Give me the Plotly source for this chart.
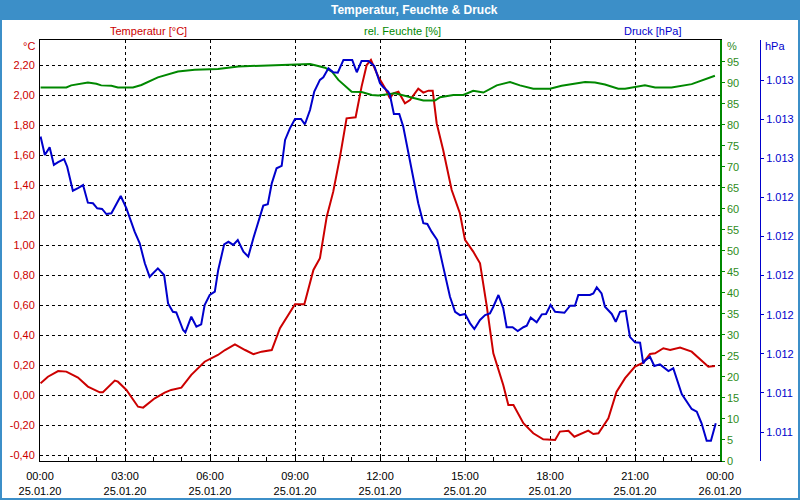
import plotly.graph_objects as go
import pandas as pd

# ---- data (hours since 25.01.20 00:00) ----
temp_hours = [0.02, 0.28, 0.64, 0.93, 1.34, 1.69, 2.11, 2.22, 2.64, 2.75, 3.05, 3.22, 3.46, 3.64, 4.05, 4.40,
              4.63, 4.99, 5.34, 5.81, 6.28, 6.53, 6.88, 7.24, 7.53, 7.82, 8.18, 8.47, 9.00, 9.33, 9.65, 9.88,
              10.12, 10.35, 10.59, 10.82, 11.14, 11.35, 11.53, 11.68, 11.94, 12.18, 12.35, 12.47, 12.65, 12.88,
              13.06, 13.35, 13.53, 13.71, 13.86, 14.00, 14.23, 14.53, 14.82, 15.00, 15.29, 15.53, 15.77, 16.00,
              16.35, 16.53, 16.71, 17.06, 17.41, 17.76, 18.18, 18.35, 18.65, 18.86, 19.18, 19.35, 19.53, 19.71,
              20.06, 20.35, 20.65, 21.00, 21.29, 21.53, 21.71, 22.00, 22.24, 22.59, 23.00, 23.35, 23.59, 23.82]
temp_values = [0.081, 0.125, 0.163, 0.159, 0.119, 0.059, 0.021, 0.021, 0.099, 0.092, 0.037, -0.008, -0.075, -0.081,
               -0.019, 0.019, 0.037, 0.052, 0.137, 0.225, 0.270, 0.303, 0.341, 0.303, 0.275, 0.292, 0.303, 0.448,
               0.608, 0.608, 0.837, 0.915, 1.192, 1.359, 1.592, 1.848, 1.855, 2.059, 2.203, 2.237, 2.125, 2.048,
               1.981, 2.015, 2.025, 1.948, 1.970, 2.045, 2.019, 2.032, 2.032, 1.815, 1.637, 1.370, 1.215, 1.037,
               0.959, 0.881, 0.592, 0.281, 0.070, -0.063, -0.063, -0.185, -0.252, -0.292, -0.297, -0.241, -0.235,
               -0.275, -0.252, -0.235, -0.257, -0.252, -0.152, 0.025, 0.115, 0.192, 0.219, 0.277, 0.281, 0.315,
               0.303, 0.319, 0.292, 0.232, 0.192, 0.197]

hum_hours = [0.02, 0.93, 1.10, 1.69, 1.99, 2.16, 2.52, 2.75, 3.28, 3.58, 4.16, 4.87, 5.46, 6.28, 7.00, 7.94,
             9.35, 9.53, 9.71, 10.06, 10.30, 10.53, 11.00, 11.35, 11.71, 11.94, 12.53, 13.06, 13.53, 13.94,
             14.12, 14.59, 14.94, 15.29, 15.65, 16.12, 16.59, 16.94, 17.41, 18.00, 18.18, 18.41, 19.24, 19.59,
             19.94, 20.41, 20.65, 21.35, 21.71, 22.29, 23.00, 23.35, 23.82]
hum_values = [88.9, 88.9, 89.4, 90.1, 89.8, 89.4, 89.3, 88.9, 88.9, 89.5, 91.3, 92.7, 93.1, 93.3, 93.9, 94.1,
              94.3, 94.5, 94.2, 93.6, 92.7, 90.7, 87.9, 87.8, 87.1, 87.0, 87.5, 86.6, 85.8, 85.8,
              86.6, 87.1, 87.1, 88.1, 87.7, 89.4, 90.2, 89.4, 88.6, 88.6, 88.9, 89.3, 90.2, 90.1,
              89.6, 88.6, 88.6, 89.4, 88.9, 88.9, 89.7, 90.5, 91.7]

pres_hours = [0.02, 0.17, 0.34, 0.49, 0.64, 0.85, 0.96, 1.16, 1.34, 1.52, 1.69, 1.87, 2.02, 2.19, 2.34, 2.52,
              2.85, 3.05, 3.34, 3.52, 3.70, 3.87, 4.16, 4.38, 4.52, 4.69, 4.81, 5.05, 5.13, 5.34, 5.52, 5.69,
              5.81, 5.99, 6.17, 6.29, 6.50, 6.65, 6.82, 6.98, 7.18, 7.35, 7.53, 7.70, 7.88, 8.04, 8.18, 8.35,
              8.53, 8.65, 8.82, 9.00, 9.21, 9.35, 9.53, 9.68, 9.88, 10.00, 10.18, 10.35, 10.51, 10.71, 11.02,
              11.18, 11.35, 11.59, 11.80, 12.00, 12.12, 12.29, 12.35, 12.49, 12.68, 12.82, 13.00, 13.18, 13.35,
              13.53, 13.67, 13.82, 14.02, 14.23, 14.47, 14.65, 14.82, 15.00, 15.18, 15.33, 15.53, 15.71, 15.88,
              16.00, 16.18, 16.35, 16.47, 16.68, 16.86, 17.06, 17.18, 17.32, 17.53, 17.71, 17.86, 18.02, 18.18,
              18.51, 18.71, 18.88, 19.00, 19.41, 19.53, 19.65, 19.82, 19.94, 20.06, 20.18, 20.32, 20.47, 20.67,
              20.82, 21.00, 21.18, 21.29, 21.35, 21.53, 21.68, 21.88, 22.18, 22.35, 22.65, 23.00, 23.18, 23.35,
              23.53, 23.68, 23.85]
pres_values = [1012.711, 1012.617, 1012.656, 1012.566, 1012.580, 1012.596, 1012.557, 1012.434, 1012.447,
               1012.463, 1012.373, 1012.370, 1012.344, 1012.341, 1012.315, 1012.319, 1012.407, 1012.344,
               1012.225, 1012.165, 1012.063, 1011.994, 1012.037, 1012.003, 1011.858, 1011.815, 1011.812,
               1011.722, 1011.710, 1011.790, 1011.739, 1011.751, 1011.850, 1011.901, 1011.918, 1012.029,
               1012.160, 1012.173, 1012.157, 1012.182, 1012.122, 1012.097, 1012.191, 1012.276, 1012.358,
               1012.365, 1012.472, 1012.549, 1012.561, 1012.694, 1012.753, 1012.801, 1012.801, 1012.774,
               1012.847, 1012.941, 1013.001, 1013.014, 1013.060, 1013.040, 1013.038, 1013.103, 1013.103,
               1013.040, 1013.098, 1013.098, 1013.072, 1012.984, 1012.963, 1012.941, 1012.924, 1012.827,
               1012.827, 1012.762, 1012.626, 1012.489, 1012.370, 1012.268, 1012.264, 1012.225, 1012.182,
               1012.046, 1011.892, 1011.815, 1011.798, 1011.804, 1011.756, 1011.727, 1011.773, 1011.798,
               1011.807, 1011.841, 1011.901, 1011.833, 1011.736, 1011.736, 1011.717, 1011.736, 1011.744,
               1011.785, 1011.761, 1011.802, 1011.804, 1011.850, 1011.815, 1011.810, 1011.846, 1011.846,
               1011.901, 1011.901, 1011.909, 1011.940, 1011.909, 1011.841, 1011.820, 1011.804, 1011.764,
               1011.815, 1011.820, 1011.687, 1011.659, 1011.657, 1011.551, 1011.565, 1011.585, 1011.538,
               1011.546, 1011.512, 1011.526, 1011.394, 1011.318, 1011.304, 1011.245, 1011.155, 1011.155,
               1011.245]

temp_ticks = [-0.4, -0.2, 0.0, 0.2, 0.4, 0.6, 0.8, 1.0, 1.2, 1.4, 1.6, 1.8, 2.0, 2.2]
hum_ticks = list(range(0, 100, 5))
pres_ticks = [1011.2, 1011.4, 1011.6, 1011.8, 1012.0, 1012.2, 1012.4, 1012.6, 1012.8, 1013.0]

title_text = "Temperatur, Feuchte & Druck"
series_names = ["Temperatur [°C]", "rel. Feuchte [%]", "Druck [hPa]"]
unit_labels = ["°C", "%", "hPa"]

# ---- styling ----
RED = "#cc0000"
GREEN = "#008800"
GREEN_TXT = "#2e8b1a"
BLUE = "#0000cc"
BAR = "#3c8fc8"
FONT = "Liberation Sans"

base = pd.Timestamp("2020-01-25 00:00")
def to_time(hours):
    return [base + pd.Timedelta(hours=h) for h in hours]

W, H = 800, 500
ML, MR, MT, MB = 40, 38, 40, 39
PW, PH = W - ML - MR, H - MT - MB
def px(x):
    return (x - ML) / PW
def py(y):
    return (H - MB - y) / PH

fig = go.Figure()
fig.add_trace(go.Scatter(x=to_time(hum_hours), y=hum_values, mode="lines", name=series_names[1],
                         line=dict(color=GREEN, width=2), yaxis="y2"))
fig.add_trace(go.Scatter(x=to_time(pres_hours), y=pres_values, mode="lines", name=series_names[2],
                         line=dict(color=BLUE, width=2), yaxis="y3"))
fig.add_trace(go.Scatter(x=to_time(temp_hours), y=temp_values, mode="lines", name=series_names[0],
                         line=dict(color=RED, width=2), yaxis="y"))

temp_text = [f"{v:.2f}".replace(".", ",") for v in temp_ticks]
pres_text = [f"{int(round(v)):,}".replace(",", ".") for v in pres_ticks]

fig.update_layout(
    width=W, height=H,
    margin=dict(l=ML, r=MR, t=MT, b=MB, autoexpand=False),
    paper_bgcolor="white", plot_bgcolor="white",
    showlegend=False,
    font=dict(family=FONT, size=11, color="black"),
    xaxis=dict(
        domain=[0, px(720)],
        type="date",
        range=[base, base + pd.Timedelta(hours=24)],
        tick0=base, dtick=3 * 3600000,
        tickformat="%H:%M<br>%d.%m.%y",
        showgrid=True, gridcolor="black", gridwidth=1, griddash="3px,3px",
        showline=True, linecolor="black", linewidth=1, mirror=True,
        ticks="inside", ticklen=4, tickcolor="black",
        minor=dict(dtick=3600000, ticks="inside", ticklen=4, tickcolor="black", showgrid=False),
        tickfont=dict(size=11, color="black"),
        ticklabelstandoff=5,
        zeroline=False, automargin=False,
    ),
    yaxis=dict(
        range=[-0.437, 2.37],
        tickmode="array", tickvals=temp_ticks, ticktext=temp_text,
        showgrid=True, gridcolor="black", gridwidth=1, griddash="3px,3px",
        showline=True, linecolor="black", linewidth=1,
        ticks="outside", ticklen=2, tickcolor="rgba(0,0,0,0)",
        tickfont=dict(size=11, color=RED),
        zeroline=False, automargin=False,
    ),
    yaxis2=dict(
        range=[0, 100.2], overlaying="y", side="right", anchor="x",
        tickmode="array", tickvals=hum_ticks,
        showgrid=False, showline=True, linecolor=GREEN, linewidth=1.5,
        ticks="outside", ticklen=3, tickcolor=GREEN,
        tickfont=dict(size=11, color=GREEN_TXT),
        zeroline=False, automargin=False,
    ),
    yaxis3=dict(
        range=[1011.052, 1013.205], overlaying="y", side="right", anchor="free",
        position=px(760),
        tickmode="array", tickvals=pres_ticks, ticktext=pres_text,
        showgrid=False, showline=True, linecolor=BLUE, linewidth=1,
        ticks="outside", ticklen=3, tickcolor=BLUE,
        tickfont=dict(size=11, color=BLUE),
        zeroline=False, automargin=False,
    ),
    shapes=[
        dict(type="rect", xref="paper", yref="paper", x0=px(0), x1=px(800), y0=py(20), y1=py(0),
             fillcolor=BAR, line=dict(width=0), layer="below"),
        dict(type="rect", xref="paper", yref="paper", x0=px(1), x1=px(799), y0=py(499), y1=py(1),
             fillcolor="rgba(0,0,0,0)", line=dict(width=2, color=BAR)),
    ],
    annotations=[
        dict(text=f"<b>{title_text}</b>", x=px(414), y=py(10), xref="paper", yref="paper",
             showarrow=False, font=dict(size=12, color="white", family=FONT), xanchor="center", yanchor="middle"),
        dict(text=series_names[0], x=px(148), y=py(31), xref="paper", yref="paper", showarrow=False,
             font=dict(size=11, color=RED), xanchor="center", yanchor="middle"),
        dict(text=series_names[1], x=px(402), y=py(31), xref="paper", yref="paper", showarrow=False,
             font=dict(size=11, color=GREEN), xanchor="center", yanchor="middle"),
        dict(text=series_names[2], x=px(652), y=py(31), xref="paper", yref="paper", showarrow=False,
             font=dict(size=11, color=BLUE), xanchor="center", yanchor="middle"),
        dict(text=unit_labels[0], x=px(37), y=py(46), xref="paper", yref="paper", showarrow=False,
             font=dict(size=11, color=RED), xanchor="right", yanchor="middle"),
        dict(text=unit_labels[1], x=px(725), y=py(46), xref="paper", yref="paper", showarrow=False,
             font=dict(size=11, color=GREEN_TXT), xanchor="left", yanchor="middle"),
        dict(text=unit_labels[2], x=px(763), y=py(46), xref="paper", yref="paper", showarrow=False,
             font=dict(size=11, color=BLUE), xanchor="left", yanchor="middle"),
    ],
)

fig.write_html("out.html")
